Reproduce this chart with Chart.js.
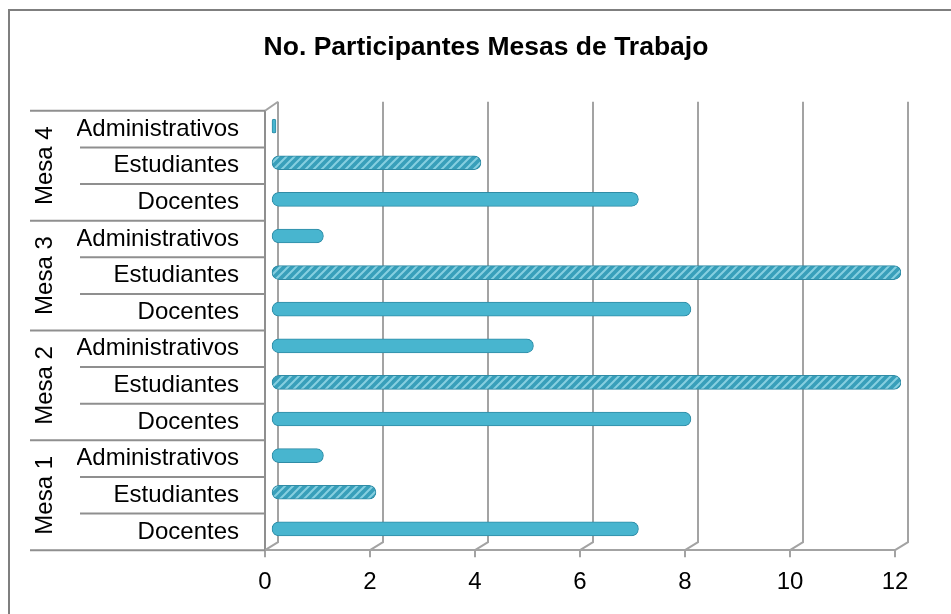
<!DOCTYPE html>
<html>
<head>
<meta charset="utf-8">
<title>No. Participantes Mesas de Trabajo</title>
<script src="https://cdn.jsdelivr.net/npm/chart.js@4.4.0/dist/chart.umd.min.js"></script>
<style>
    body { margin: 0; background: #ffffff; }
    #wrap { position: relative; width: 951px; height: 614px; overflow: hidden; }
    #marco {
        position: absolute; left: 8px; top: 9px; width: 1000px; height: 700px;
        border-left: 2px solid #7f7f7f; border-top: 2px solid #7f7f7f;
        pointer-events: none;
    }
    #grafica { position: absolute; left: 0; top: 0; }
</style>
</head>
<body>
<div id="wrap">
    <div id="marco"></div>
    <canvas id="grafica" width="951" height="614"></canvas>
</div>
<script>
// Datos
const mesas = ['Mesa 1', 'Mesa 2', 'Mesa 3', 'Mesa 4'];
const roles = ['Docentes', 'Estudiantes', 'Administrativos'];
const docentes = [7, 8, 8, 7];
const estudiantes = [2, 12, 12, 4];
const administrativos = [1, 5, 1, 0];
const ticksX = [0, 2, 4, 6, 8, 10, 12];

// Armar etiquetas y valores (Mesa 1 abajo, por eso el eje y va invertido)
const etiquetas = [];
const valores = [];
const esEstudiante = [];
mesas.forEach(function (m, i) {
    const fila = [docentes[i], estudiantes[i], administrativos[i]];
    roles.forEach(function (r, j) {
        etiquetas.push(r);
        valores.push(fila[j]);
        esEstudiante.push(r === 'Estudiantes');
    });
});

// Patron rayado para las barras de estudiantes
function crearRayado() {
    const c = document.createElement('canvas');
    c.width = 8; c.height = 8;
    const g = c.getContext('2d');
    g.fillStyle = '#389fba';
    g.fillRect(0, 0, 8, 8);
    g.strokeStyle = '#86cfe0';
    g.lineWidth = 2;
    g.beginPath();
    g.moveTo(-2, 10); g.lineTo(10, -2);
    g.moveTo(-6, 6); g.lineTo(6, -6);
    g.moveTo(2, 14); g.lineTo(14, 2);
    g.stroke();
    return g.createPattern(c, 'repeat');
}

const colorGris = '#a3a3a3';
const fuente = '"Liberation Sans", Arial, sans-serif';

// Marco 3D, lineas de filas y etiquetas de grupo
const marco3d = {
    id: 'marco3d',
    beforeDatasetsDraw(chart) {
        const ctx = chart.ctx;
        const a = chart.chartArea;
        const x = chart.scales.x;
        ctx.save();
        ctx.strokeStyle = colorGris;
        ctx.lineWidth = 2;
        ticksX.forEach(function (v) {
            const px = x.getPixelForValue(v);
            ctx.beginPath();
            ctx.moveTo(px + 13, a.top - 9);
            ctx.lineTo(px + 13, a.bottom - 8);
            ctx.lineTo(px, a.bottom);
            ctx.stroke();
        });
        // arista superior de la pared izquierda
        ctx.beginPath();
        ctx.moveTo(a.left, a.top);
        ctx.lineTo(a.left + 13, a.top - 9);
        ctx.stroke();
        ctx.restore();

        // las barras van un poco hacia dentro (profundidad)
        ctx.save();
        ctx.translate(6, -3);
    },
    afterDatasetsDraw(chart) {
        const ctx = chart.ctx;
        ctx.restore();

        const a = chart.chartArea;
        const n = etiquetas.length;
        const alto = (a.bottom - a.top) / n;
        ctx.save();
        ctx.strokeStyle = '#8f8f8f';
        ctx.lineWidth = 2;
        for (let k = 0; k <= n; k++) {
            const py = a.top + k * alto;
            const x0 = (k % roles.length === 0) ? 30 : 80;
            ctx.beginPath();
            ctx.moveTo(x0, py);
            ctx.lineTo(a.left, py);
            ctx.stroke();
        }
        // nombres de las mesas, girados
        ctx.fillStyle = '#000000';
        ctx.font = '24px ' + fuente;
        ctx.textAlign = 'center';
        ctx.textBaseline = 'middle';
        mesas.forEach(function (m, i) {
            const yc = a.bottom - (i + 0.5) * roles.length * alto;
            ctx.save();
            ctx.translate(45, yc);
            ctx.rotate(-Math.PI / 2);
            ctx.fillText(m, 0, 0);
            ctx.restore();
        });
        ctx.restore();
    }
};

document.addEventListener('DOMContentLoaded', function () {
    const ctx = document.getElementById('grafica').getContext('2d');
    const rayado = crearRayado();

    new Chart(ctx, {
        type: 'bar',
        data: {
            labels: etiquetas,
            datasets: [{
                label: 'Participantes',
                data: valores,
                backgroundColor: function (c) {
                    return esEstudiante[c.dataIndex] ? rayado : '#48b5cf';
                },
                borderColor: '#2f8ca6',
                borderWidth: 1,
                borderSkipped: false,
                borderRadius: 7,
                barThickness: 14,
                minBarLength: 5
            }]
        },
        options: {
            indexAxis: 'y',
            responsive: false,
            animation: false,
            // padding izquierdo para centrar el titulo como en la original
            layout: { padding: { top: 1, right: 56, bottom: 6, left: 77 } },
            plugins: {
                legend: { display: false },
                tooltip: { enabled: false },
                title: {
                    display: true,
                    text: 'No. Participantes Mesas de Trabajo',
                    color: '#000000',
                    font: { family: fuente, size: 26.5, weight: 'bold' },
                    padding: { top: 31, bottom: 47 }
                }
            },
            scales: {
                x: {
                    min: 0,
                    max: 12,
                    ticks: {
                        stepSize: 2,
                        padding: 11,
                        color: '#000000',
                        font: { family: fuente, size: 24 }
                    },
                    grid: {
                        drawOnChartArea: false,
                        drawTicks: true,
                        tickLength: 7,
                        color: colorGris,
                        lineWidth: 2
                    },
                    border: { display: true, color: colorGris, width: 2 }
                },
                y: {
                    reverse: true,
                    afterFit: function (s) { s.width = 188; },
                    ticks: {
                        padding: 18,
                        color: '#000000',
                        font: { family: fuente, size: 24 }
                    },
                    grid: { display: false },
                    border: { display: true, color: '#8f8f8f', width: 2 }
                }
            }
        },
        plugins: [marco3d]
    });
});
</script>
</body>
</html>
